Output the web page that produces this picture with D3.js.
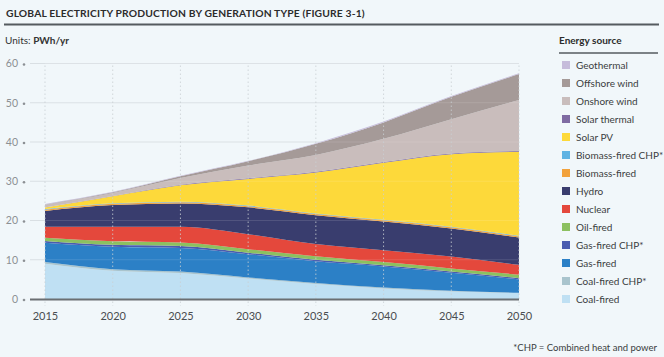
<!DOCTYPE html>
<html><head><meta charset="utf-8">
<script src="https://cdn.jsdelivr.net/npm/d3@7"></script>
<style>
html,body{margin:0;padding:0;background:#f1f7fa;}
svg{display:block;font-family:Lato,"Noto Sans",sans-serif;}
</style></head>
<body><svg id="c" width="664" height="357"></svg>
<script>
const years = [2015, 2020, 2025, 2030, 2035, 2040, 2045, 2050];
const coalFired     = [9.0, 7.2, 6.6, 5.2, 3.8, 2.7, 1.9, 1.5];
const coalFiredCHP  = [0.4, 0.4, 0.4, 0.3, 0.3, 0.2, 0.2, 0.1];
const gasFired      = [4.9, 5.7, 6.0, 5.9, 5.5, 5.4, 4.6, 3.4];
const gasFiredCHP   = [0.5, 0.5, 0.5, 0.4, 0.4, 0.3, 0.3, 0.3];
const oilFired      = [0.8, 0.9, 0.9, 0.9, 0.9, 0.8, 0.8, 0.9];
const nuclear       = [2.8, 3.7, 4.0, 3.8, 3.1, 3.0, 3.0, 2.5];
const hydro         = [4.05, 5.55, 5.95, 6.85, 7.35, 7.35, 7.15, 6.95];
const biomassFired  = [0.3, 0.3, 0.3, 0.3, 0.3, 0.3, 0.3, 0.3];
const biomassCHP    = [0.15, 0.15, 0.15, 0.15, 0.15, 0.15, 0.15, 0.15];
const solarPV       = [0.4, 1.8, 4.2, 6.8, 10.4, 14.5, 18.5, 21.4];
const solarThermal  = [0.02, 0.05, 0.1, 0.15, 0.2, 0.2, 0.2, 0.2];
const onshoreWind   = [0.68, 0.75, 1.7, 3.25, 4.3, 5.9, 8.7, 13.0];
const offshoreWind  = [0.1, 0.2, 0.5, 1.1, 2.85, 4.2, 5.7, 6.6];
const geothermal    = [0.1, 0.1, 0.1, 0.1, 0.15, 0.2, 0.2, 0.2];
const yTicks = [0, 10, 20, 30, 40, 50, 60];

// bottom-to-top stacking order
const seriesNames = ["Coal-fired","Coal-fired CHP*","Gas-fired","Gas-fired CHP*","Oil-fired","Nuclear","Hydro","Biomass-fired","Biomass-fired CHP*","Solar PV","Solar thermal","Onshore wind","Offshore wind","Geothermal"];
const seriesValues = [coalFired,coalFiredCHP,gasFired,gasFiredCHP,oilFired,nuclear,hydro,biomassFired,biomassCHP,solarPV,solarThermal,onshoreWind,offshoreWind,geothermal];
const seriesColors = ["#bfe0f3","#a9c4cd","#2c80c6","#4a5cb0","#8cc060","#e4483c","#393d6e","#f2a23c","#5fb3e3","#fdd93a","#7f6ba2","#c9bdbc","#a59a98","#c6bcdb"];

const rows = years.map((yr, i) => {
  const r = {year: yr};
  seriesNames.forEach((n, k) => r[n] = seriesValues[k][i]);
  return r;
});

const svg = d3.select("#c");
const x = d3.scaleLinear().domain([2015, 2050]).range([45, 519]);
const y = d3.scaleLinear().domain([0, 60]).range([299, 63.5]);

// Title
svg.append("text").attr("x", 6).attr("y", 17).attr("font-size", 10.3).attr("font-weight", 700)
  .attr("fill", "#2c2c2c").attr("letter-spacing", 0.15)
  .text("GLOBAL ELECTRICITY PRODUCTION BY GENERATION TYPE (FIGURE 3-1)");
svg.append("line").attr("x1", 4).attr("x2", 659).attr("y1", 24.5).attr("y2", 24.5)
  .attr("stroke", "#555b5f").attr("stroke-width", 2);

const units = svg.append("text").attr("x", 5).attr("y", 44).attr("font-size", 10).attr("fill", "#333");
units.append("tspan").text("Units: ");
units.append("tspan").attr("font-weight", 700).text("PWh/yr");

// Horizontal gridlines (behind)
const gH = svg.append("g");
yTicks.filter(t => t > 0).forEach(t => {
  gH.append("line").attr("x1", 30).attr("x2", 519).attr("y1", y(t)).attr("y2", y(t))
    .attr("stroke", "#d9dfe3").attr("stroke-width", 1);
});

// Areas
const stack = d3.stack().keys(seriesNames);
const layers = stack(rows);
const area = d3.area().x(d => x(d.data.year)).y0(d => y(d[0])).y1(d => y(d[1])).curve(d3.curveMonotoneX);
svg.append("g").selectAll("path").data(layers).join("path")
  .attr("d", area).attr("fill", (d, i) => seriesColors[i]);

// Gridlines over areas (faint)
const gO = svg.append("g");
yTicks.filter(t => t > 0).forEach(t => {
  gO.append("line").attr("x1", 45).attr("x2", 519).attr("y1", y(t)).attr("y2", y(t))
    .attr("stroke", "#ffffff").attr("stroke-opacity", 0.12);
});
years.forEach(yr => {
  gO.append("line").attr("x1", x(yr)).attr("x2", x(yr)).attr("y1", y(60) + 2).attr("y2", 306)
    .attr("stroke", "#c9cfd3").attr("stroke-width", 1).attr("stroke-dasharray", "1.5,2.5").attr("stroke-opacity", 0.8);
});

// Zero axis line
svg.append("line").attr("x1", 30).attr("x2", 519).attr("y1", y(0) + 0.5).attr("y2", y(0) + 0.5)
  .attr("stroke", "#6b6f72").attr("stroke-width", 2);

// Y axis labels with dot
const yAxis = d3.axisLeft(y).tickValues(yTicks).tickSize(0).tickPadding(0).tickFormat(d3.format("d"));
const ga = svg.append("g").attr("transform", "translate(20,0)").call(yAxis);
ga.select(".domain").remove();
ga.selectAll("text").attr("font-size", 10.5).attr("fill", "#8c9094").attr("font-family", "Lato, 'Noto Sans', sans-serif").attr("x", -2);
ga.selectAll(".tick").append("circle").attr("cx", 4).attr("cy", 0.5).attr("r", 1.3).attr("fill", "#8c9094");

// X axis labels
const xAxis = d3.axisBottom(x).tickValues(years).tickSize(0).tickPadding(0).tickFormat(d3.format("d"));
const gx = svg.append("g").attr("transform", "translate(0,312)").call(xAxis);
gx.select(".domain").remove();
gx.selectAll("text").attr("font-size", 11).attr("fill", "#4a4d50").attr("font-family", "Lato, 'Noto Sans', sans-serif");

// Legend
svg.append("text").attr("x", 559).attr("y", 44).attr("font-size", 10).attr("font-weight", 700)
  .attr("fill", "#2c2c2c").text("Energy source");
svg.append("line").attr("x1", 559).attr("x2", 658).attr("y1", 53).attr("y2", 53)
  .attr("stroke", "#555b5f").attr("stroke-width", 1.5);
const legendOrder = seriesNames.map((n, i) => i).reverse();
const lg = svg.append("g");
legendOrder.forEach((k, j) => {
  const ly = 65 + j * 18;
  lg.append("rect").attr("x", 562).attr("y", ly - 4).attr("width", 8).attr("height", 8).attr("fill", seriesColors[k]);
  lg.append("text").attr("x", 576).attr("y", ly + 3.5).attr("font-size", 10).attr("fill", "#3a3d40").text(seriesNames[k]);
});

// Footnote
svg.append("text").attr("x", 657).attr("y", 351).attr("text-anchor", "end").attr("font-size", 9.5)
  .attr("fill", "#3a3d40").text("*CHP = Combined heat and power");
</script></body></html>
